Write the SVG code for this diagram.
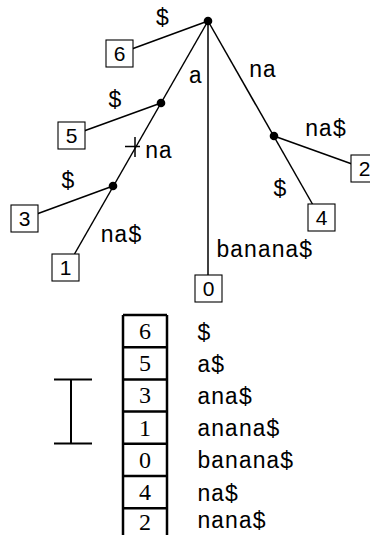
<svg xmlns="http://www.w3.org/2000/svg" width="370" height="535" viewBox="0 0 370 535">
<style>
.edge{stroke:#000;stroke-width:1.5;fill:none}
.box{fill:#fff;stroke:#000;stroke-width:1.1}
.dot{fill:#000}
.num{font-family:"Liberation Sans",Arial,sans-serif;font-size:21px;text-anchor:middle}
.lbl{font-family:"Liberation Mono","Courier New",monospace;font-size:23px}
.mid{text-anchor:middle}
.tab{stroke:#000;stroke-width:2.5;fill:none}
.tnum{font-family:"Liberation Serif","Times New Roman",serif;font-size:24px;text-anchor:middle}
</style>
<rect width="370" height="535" fill="#fff"/>
<g id="connectors">
<line class="edge" x1="208" y1="21" x2="119.5" y2="53.5"/>
<line class="edge" x1="208" y1="21" x2="74.5" y2="254"/>
<line class="edge" x1="208" y1="21" x2="208" y2="288"/>
<line class="edge" x1="208" y1="21" x2="313" y2="205"/>
<line class="edge" x1="161" y1="103" x2="71.5" y2="135.5"/>
<line class="edge" x1="113" y1="186" x2="24.5" y2="218.5"/>
<line class="edge" x1="274" y1="136" x2="364.5" y2="168.5"/>
<path class="edge" d="M125 146.5H140M135 137V157"/>
<text class="lbl mid" x="162.5" y="25">$</text>
<text class="lbl mid" x="195.5" y="83">a</text>
<text class="lbl mid" x="262.5" y="77">na</text>
<text class="lbl mid" x="115" y="107">$</text>
<text class="lbl mid" x="325.5" y="136">na$</text>
<text class="lbl mid" x="158.5" y="158">na</text>
<text class="lbl mid" x="68" y="188">$</text>
<text class="lbl mid" x="121" y="242">na$</text>
<text class="lbl mid" x="280" y="196">$</text>
<text class="lbl" x="216" y="257">banana$</text>
</g>
<g id="root"><circle class="dot" cx="208" cy="21" r="4.3"/></g>
<g id="n_a"><circle class="dot" cx="161" cy="103" r="4.3"/></g>
<g id="n_ana"><circle class="dot" cx="113" cy="186" r="4.3"/></g>
<g id="n_na"><circle class="dot" cx="274" cy="136" r="4.3"/></g>
<g id="leaf6"><rect class="box" x="106" y="40" width="27" height="27"/><text class="num" x="119.5" y="61">6</text></g>
<g id="leaf5"><rect class="box" x="58" y="122" width="27" height="27"/><text class="num" x="71.5" y="143">5</text></g>
<g id="leaf3"><rect class="box" x="11" y="205" width="27" height="27"/><text class="num" x="24.5" y="226">3</text></g>
<g id="leaf1"><rect class="box" x="52" y="254" width="27" height="27"/><text class="num" x="65.5" y="275">1</text></g>
<g id="leaf0"><rect class="box" x="195" y="275" width="27" height="27"/><text class="num" x="208.5" y="296">0</text></g>
<g id="leaf4"><rect class="box" x="308" y="204" width="27" height="27"/><text class="num" x="321.5" y="225">4</text></g>
<g id="leaf2"><rect class="box" x="351" y="155" width="27" height="27"/><text class="num" x="364.5" y="176">2</text></g>
<g id="interval"><path d="M54 379.5H92M54 443.5H92M71 379.5V443.5" stroke="#000" stroke-width="2" fill="none"/></g>
<g id="table">
<path class="tab" d="M123 315V535M167 315V535M123 315H167M123 347.2H167M123 379.4H167M123 411.6H167M123 443.8H167M123 476H167M123 508.2H167"/>
<text class="tnum" x="145" y="339">6</text>
<text class="tnum" x="145" y="371.2">5</text>
<text class="tnum" x="145" y="403.4">3</text>
<text class="tnum" x="145" y="435.6">1</text>
<text class="tnum" x="145" y="467.8">0</text>
<text class="tnum" x="145" y="500">4</text>
<text class="tnum" x="145" y="530">2</text>
<text class="lbl" x="197" y="339.5">$</text>
<text class="lbl" x="197" y="371.7">a$</text>
<text class="lbl" x="197" y="403.9">ana$</text>
<text class="lbl" x="197" y="436.1">anana$</text>
<text class="lbl" x="197" y="468.3">banana$</text>
<text class="lbl" x="197" y="500.5">na$</text>
<text class="lbl" x="197" y="527.5">nana$</text>
</g>
</svg>
